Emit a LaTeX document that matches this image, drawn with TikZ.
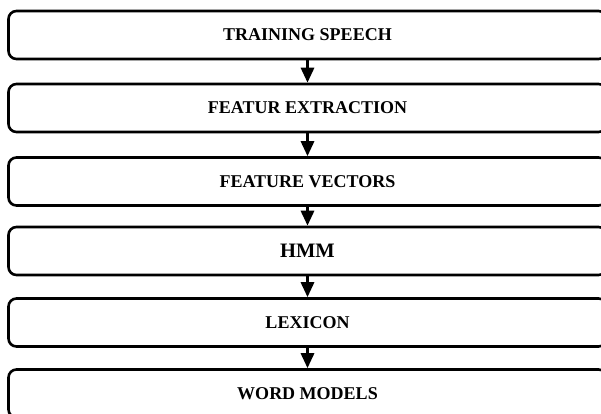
\documentclass[tikz,border=0pt]{standalone}
\usepackage{fontspec}
\setmainfont{Liberation Serif}
\usetikzlibrary{arrows.meta}

\begin{document}
\begin{tikzpicture}[x=1pt,y=-1pt,
	stage/.style={draw=black,line width=2.6pt,rounded corners=8pt,fill=white,
		minimum width=598pt,minimum height=48pt,inner sep=0pt,
		font=\fontsize{18}{20}\selectfont\bfseries},
	flow/.style={line width=3pt,-{Triangle[width=13pt,length=15pt]}}]
			\useasboundingbox (0,0) rectangle (601,413);
			\clip (0,0) rectangle (601,413);
			
			\node[stage] (train) at (307.5,35) {TRAINING SPEECH};
			\node[stage] (featx) at (307.5,108) {FEATUR EXTRACTION};
			\node[stage] (featv) at (307.5,181.5) {FEATURE VECTORS};
			\node[stage,font=\fontsize{20.5}{22}\selectfont\bfseries] (hmm) at (307.5,251) {HMM};
			\node[stage] (lex) at (307.5,322.5) {LEXICON};
			\node[stage] (words) at (307.5,393.5) {WORD MODELS};
			
			\foreach \a/\b in {train/featx,featx/featv,featv/hmm,hmm/lex,lex/words}
			\draw[flow] (\a) -- (\b);
			\end{tikzpicture}
\end{document}
